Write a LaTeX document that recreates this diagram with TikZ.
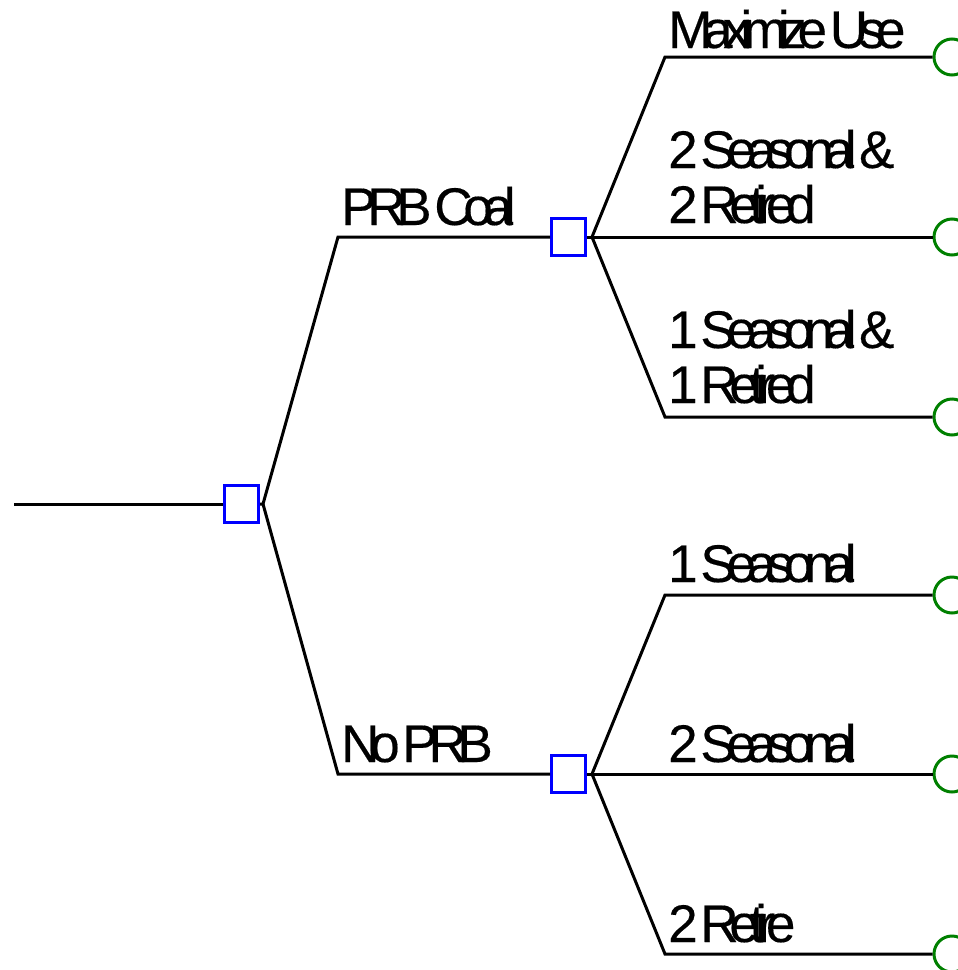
\documentclass[tikz,border=0pt]{standalone}
\usepackage{fontspec}
\setmainfont{Liberation Sans}[LetterSpace=-17.5,WordSpace=0.5,FakeBold=0.3]
\begin{document}
\begin{tikzpicture}[x=1pt,y=-1pt,
  branch/.style={line width=3pt,black},
  decision/.style={draw=blue,line width=3pt,fill=white,minimum width=34pt,minimum height=37pt,inner sep=0pt},
  chance/.style={draw=green!50!black,line width=3pt,fill=white,circle,minimum size=36pt,inner sep=0pt},
  lbl/.style={inner sep=0pt,anchor=base west,align=left,font=\fontsize{53}{55}\selectfont}]
\useasboundingbox (0,0) rectangle (958,970);
\clip (0,0) rectangle (958,970);
% coordinates
\coordinate (s) at (14,504);
\coordinate (a0) at (263,504);
\coordinate (b1) at (338,237);
\coordinate (b2) at (338,774);
\coordinate (a1) at (592,237);
\coordinate (a2) at (592,774);
\coordinate (e1) at (665,57);
\coordinate (e2) at (665,237);
\coordinate (e3) at (665,417);
\coordinate (e4) at (665,595);
\coordinate (e5) at (665,774);
\coordinate (e6) at (665,954);
% nodes
\node[decision] (d0) at (241.5,504) {};
\node[decision] (d1) at (568.5,237) {};
\node[decision] (d2) at (568.5,774) {};
\node[chance] (c1) at (952,57) {};
\node[chance] (c2) at (952,237) {};
\node[chance] (c3) at (952,417) {};
\node[chance] (c4) at (952,595) {};
\node[chance] (c5) at (952,774) {};
\node[chance] (c6) at (952,954) {};
% connectors
\draw[branch] (s) -- (d0.west);
\draw[branch] (d0.east) -- (a0) -- (b1) -- (d1.west);
\draw[branch] (a0) -- (b2) -- (d2.west);
\draw[branch] (d1.east) -- (a1);
\draw[branch] (d2.east) -- (a2);
\draw[branch] (a1) -- (e1) -- (c1.west);
\draw[branch] (a1) -- (e2) -- (c2.west);
\draw[branch] (a1) -- (e3) -- (c3.west);
\draw[branch] (a2) -- (e4) -- (c4.west);
\draw[branch] (a2) -- (e5) -- (c5.west);
\draw[branch] (a2) -- (e6) -- (c6.west);
% labels
\node[lbl] (l1) at (341,225) {PRB Coal};
\node[lbl] (l2) at (341,762) {No PRB};
\node[lbl] (l3) at (668,48) {Maximize Use};
\node[lbl] (l4) at (668,223) {2 Seasonal \&\\2 Retired};
\node[lbl] (l5) at (668,403) {1 Seasonal \&\\1 Retired};
\node[lbl] (l6) at (668,582) {1 Seasonal};
\node[lbl] (l7) at (668,762) {2 Seasonal};
\node[lbl] (l8) at (668,942) {2 Retire};
\end{tikzpicture}
\end{document}
